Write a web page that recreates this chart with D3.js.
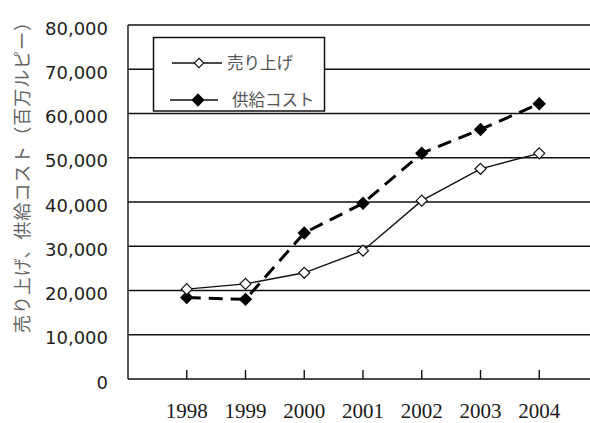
<!DOCTYPE html>
<html lang="ja">
<head>
<meta charset="UTF-8">
<script src="https://cdn.jsdelivr.net/npm/d3@7"></script>
<style>
  body { margin: 0; background: #fff; }
  svg { display: block; }
</style>
</head>
<body>
<script>
var years = ['1998', '1999', '2000', '2001', '2002', '2003', '2004'];
var sales = [20300, 21500, 24000, 29000, 40300, 47500, 51000];
var cost = [18400, 18000, 33000, 39700, 51000, 56400, 62200];
var yTicks = [0, 10000, 20000, 30000, 40000, 50000, 60000, 70000, 80000];
var seriesNames = ['売り上げ', '供給コスト'];
var yTitle = '売り上げ、供給コスト（百万ルピー）';

var width = 590, height = 423,
    plotLeft = 128, plotTop = 25, plotBottom = 379;

var svg = d3.select('body').append('svg')
    .attr('width', width).attr('height', height);

svg.append('rect').attr('width', width).attr('height', height).attr('fill', '#fff');

var x = d3.scalePoint().domain(years).range([plotLeft, 598]).padding(1);
var y = d3.scaleLinear().domain([0, 80000]).range([plotBottom, plotTop]);

// diamond marker, same width and height
var diamond = {
  draw: function(ctx, size) {
    var r = Math.sqrt(size / 2);
    ctx.moveTo(0, -r); ctx.lineTo(r, 0); ctx.lineTo(0, r); ctx.lineTo(-r, 0); ctx.closePath();
  }
};

// gridlines
svg.append('g').selectAll('line')
  .data(yTicks.filter(function(d) { return d > 0; }))
  .enter().append('line')
    .attr('x1', plotLeft).attr('x2', width)
    .attr('y1', function(d) { return y(d); }).attr('y2', function(d) { return y(d); })
    .attr('stroke', '#111').attr('stroke-width', 1.4);

// axes lines
svg.append('line').attr('x1', plotLeft).attr('x2', width).attr('y1', y(0)).attr('y2', y(0))
  .attr('stroke', '#111').attr('stroke-width', 1.4);
svg.append('line').attr('x1', plotLeft).attr('x2', plotLeft).attr('y1', y(80000)).attr('y2', y(0))
  .attr('stroke', '#111').attr('stroke-width', 1.4);

// x ticks pointing inward
svg.append('g').selectAll('line').data(years).enter().append('line')
  .attr('x1', function(d) { return x(d); }).attr('x2', function(d) { return x(d); })
  .attr('y1', y(0)).attr('y2', y(0) - 9)
  .attr('stroke', '#111').attr('stroke-width', 1.4);

// x labels
svg.append('g').selectAll('text').data(years).enter().append('text')
  .attr('x', function(d) { return x(d); }).attr('y', 418)
  .attr('text-anchor', 'middle')
  .attr('font-family', '"Liberation Serif", "Times New Roman", serif')
  .attr('font-size', 21).attr('fill', '#1a1a1a')
  .text(function(d) { return d; });

// y labels
svg.append('g').selectAll('text').data(yTicks).enter().append('text')
  .attr('x', 108).attr('y', function(d) { return y(d) + 9.5; })
  .attr('text-anchor', 'end')
  .attr('font-family', '"DejaVu Sans", Verdana, sans-serif')
  .attr('font-size', 18).attr('fill', '#1e1e1e')
  .text(d3.format(','));

// y title
svg.append('text')
  .attr('transform', 'translate(29,173) rotate(-90)')
  .attr('text-anchor', 'middle')
  .attr('font-family', '"Noto Sans CJK JP", sans-serif')
  .attr('font-size', 18).attr('fill', '#666')
  .attr('textLength', 320).attr('lengthAdjust', 'spacing')
  .text(yTitle);

// lines
var line = d3.line().x(function(d, i) { return x(years[i]); }).y(function(d) { return y(d); });

svg.append('path').datum(cost).attr('d', line)
  .attr('fill', 'none').attr('stroke', '#000').attr('stroke-width', 3)
  .attr('stroke-dasharray', '14,8');
svg.append('path').datum(sales).attr('d', line)
  .attr('fill', 'none').attr('stroke', '#111').attr('stroke-width', 1.4);

var sym = d3.symbol().type(diamond);

svg.append('g').selectAll('path').data(cost).enter().append('path')
  .attr('d', sym.size(90)())
  .attr('transform', function(d, i) { return 'translate(' + x(years[i]) + ',' + y(d) + ')'; })
  .attr('fill', '#000');
svg.append('g').selectAll('path').data(sales).enter().append('path')
  .attr('d', sym.size(60)())
  .attr('transform', function(d, i) { return 'translate(' + x(years[i]) + ',' + y(d) + ')'; })
  .attr('fill', '#fff').attr('stroke', '#111').attr('stroke-width', 1.2);

// legend
var lg = svg.append('g');
lg.append('rect').attr('x', 153.5).attr('y', 37.5).attr('width', 171).attr('height', 73.5)
  .attr('fill', '#fff').attr('stroke', '#111').attr('stroke-width', 1.5);

var rows = [
  { name: seriesNames[0], y: 63, x1: 172, x2: 222, mx: 199, tx: 227, fill: '#fff', size: 45 },
  { name: seriesNames[1], y: 100, x1: 170, x2: 218, mx: 198, tx: 232, fill: '#000', size: 70 }
];
rows.forEach(function(r) {
  lg.append('line').attr('x1', r.x1).attr('x2', r.x2).attr('y1', r.y).attr('y2', r.y)
    .attr('stroke', '#111').attr('stroke-width', 1.4);
  lg.append('path').attr('d', sym.size(r.size)())
    .attr('transform', 'translate(' + r.mx + ',' + r.y + ')')
    .attr('fill', r.fill).attr('stroke', '#111').attr('stroke-width', 1.1);
  lg.append('text').attr('x', r.tx).attr('y', r.y + 6)
    .attr('font-family', '"Noto Sans CJK JP", sans-serif')
    .attr('font-size', 16.5).attr('fill', '#555')
    .text(r.name);
});
</script>
</body>
</html>
